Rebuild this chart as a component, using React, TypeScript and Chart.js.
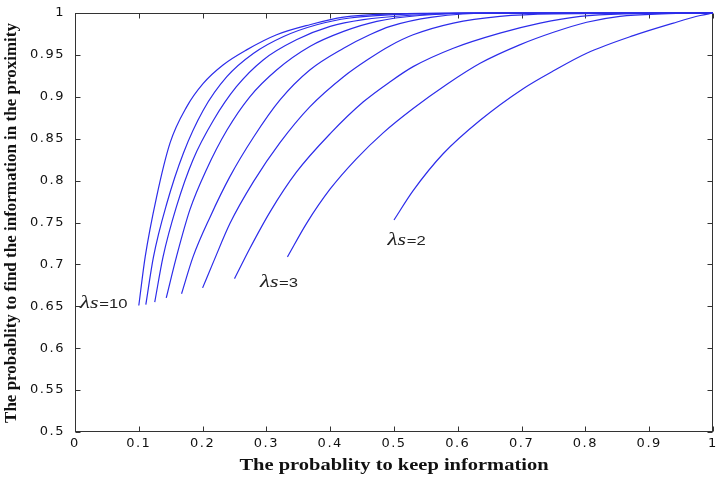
import { useEffect, useRef } from 'react';
import { Chart, registerables } from 'chart.js';

Chart.register(...registerables);

// ---- axis ticks & titles ----
const xTickValues = [0, 0.1, 0.2, 0.3, 0.4, 0.5, 0.6, 0.7, 0.8, 0.9, 1];
const yTickValues = [0.5, 0.55, 0.6, 0.65, 0.7, 0.75, 0.8, 0.85, 0.9, 0.95, 1];
const xAxisTitle = 'The probablity to keep information';
const yAxisTitle = 'The probablity to find the information in the proximity';

// ---- curves (x = probability to keep, y = probability to find) ----
const lambdaValues = [10, 9, 8, 7, 6, 5, 4, 3, 2];

const keep10 = [0.1, 0.11, 0.128, 0.149, 0.175, 0.201, 0.232, 0.269, 0.316, 0.368, 0.421, 0.5, 0.6, 1.0];
const find10 = [0.651, 0.709, 0.781, 0.845, 0.888, 0.916, 0.938, 0.956, 0.974, 0.986, 0.995, 0.999, 1.0, 1.0];

const keep9 = [0.111, 0.123, 0.144, 0.17, 0.201, 0.238, 0.28, 0.327, 0.379, 0.431, 0.5, 0.6, 1.0];
const find9 = [0.652, 0.709, 0.773, 0.833, 0.884, 0.924, 0.952, 0.972, 0.986, 0.994, 0.998, 1.0, 1.0];

const keep8 = [0.125, 0.138, 0.159, 0.185, 0.217, 0.253, 0.295, 0.347, 0.4, 0.452, 0.52, 0.62, 1.0];
const find8 = [0.655, 0.709, 0.769, 0.825, 0.872, 0.912, 0.944, 0.968, 0.984, 0.992, 0.997, 1.0, 1.0];

const keep7 = [0.143, 0.159, 0.18, 0.206, 0.238, 0.274, 0.316, 0.368, 0.421, 0.473, 0.54, 0.65, 1.0];
const find7 = [0.66, 0.709, 0.765, 0.813, 0.86, 0.9, 0.932, 0.96, 0.978, 0.99, 0.997, 1.0, 1.0];

const keep6 = [0.167, 0.185, 0.212, 0.243, 0.28, 0.321, 0.368, 0.421, 0.462, 0.494, 0.56, 0.66, 1.0];
const find6 = [0.665, 0.709, 0.757, 0.805, 0.852, 0.896, 0.932, 0.958, 0.974, 0.984, 0.995, 1.0, 1.0];

const keep5 = [0.2, 0.217, 0.243, 0.28, 0.321, 0.368, 0.421, 0.462, 0.494, 0.53, 0.593, 0.666, 0.75, 1.0];
const find5 = [0.672, 0.703, 0.749, 0.799, 0.845, 0.888, 0.924, 0.946, 0.961, 0.974, 0.988, 0.996, 0.999, 1.0];

const keep4 = [0.25, 0.274, 0.306, 0.347, 0.4, 0.452, 0.494, 0.53, 0.593, 0.666, 0.729, 0.792, 0.86, 1.0];
const find4 = [0.683, 0.719, 0.763, 0.81, 0.856, 0.894, 0.918, 0.936, 0.958, 0.976, 0.988, 0.996, 0.999, 1.0];

const keep3 = [0.333, 0.363, 0.4, 0.441, 0.483, 0.53, 0.583, 0.635, 0.697, 0.75, 0.802, 0.854, 0.92, 1.0];
const find3 = [0.709, 0.749, 0.79, 0.826, 0.857, 0.886, 0.915, 0.94, 0.962, 0.977, 0.989, 0.996, 0.999, 1.0];

const keep2 = [0.5, 0.53, 0.577, 0.635, 0.703, 0.75, 0.802, 0.875, 0.938, 0.98, 1.0];
const find2 = [0.753, 0.788, 0.832, 0.872, 0.91, 0.931, 0.952, 0.973, 0.988, 0.997, 1.0];

const curveKeep = [keep10, keep9, keep8, keep7, keep6, keep5, keep4, keep3, keep2];
const curveFind = [find10, find9, find8, find7, find6, find5, find4, find3, find2];

// ---- curve annotations ----
const noteLambda = ['10', '3', '2'];
const noteKeep = [0.008, 0.29, 0.49];
const noteFind = [0.648, 0.673, 0.723];

const LINE = '#2c2cea';
const AXIS = '#333333';
const STRETCH = 1.28;

const fmt = (v: number) => String(+v.toFixed(2));

const framePlugin = {
  id: 'matlabFrame',
  beforeUpdate(chart: any) {
    chart.ctx.letterSpacing = '1.5px';
  },
  beforeDraw(chart: any) {
    chart.ctx.letterSpacing = '1.5px';
  },
  beforeDatasetsDraw(chart: any) {
    const { ctx, chartArea: a, scales } = chart;
    ctx.save();
    ctx.strokeStyle = AXIS;
    ctx.lineWidth = 1;
    const L = Math.round(a.left) + 0.5;
    const R = Math.round(a.right) - 0.5;
    const T = Math.round(a.top) + 0.5;
    const B = Math.round(a.bottom) - 0.5;
    ctx.strokeRect(L, T, R - L, B - T);
    ctx.beginPath();
    for (const v of xTickValues) {
      const px = Math.round(scales.x.getPixelForValue(v)) + 0.5;
      ctx.moveTo(px, B);
      ctx.lineTo(px, B - 5);
      ctx.moveTo(px, T);
      ctx.lineTo(px, T + 5);
    }
    for (const v of yTickValues) {
      const py = Math.round(scales.y.getPixelForValue(v)) + 0.5;
      ctx.moveTo(L, py);
      ctx.lineTo(L + 5, py);
      ctx.moveTo(R, py);
      ctx.lineTo(R - 5, py);
    }
    ctx.stroke();
    ctx.restore();
  },
  afterDraw(chart: any) {
    const { ctx, chartArea: a, scales } = chart;
    ctx.save();
    ctx.letterSpacing = '0px';
    ctx.fillStyle = '#111';

    // x title
    ctx.save();
    ctx.translate((a.left + a.right) / 2, 466);
    ctx.scale(STRETCH, 1);
    ctx.font = 'bold 16px "Liberation Serif"';
    ctx.textAlign = 'center';
    ctx.textBaseline = 'middle';
    ctx.fillText(xAxisTitle, 0, 0);
    ctx.restore();

    // y title
    ctx.save();
    ctx.translate(12, 223);
    ctx.rotate(-Math.PI / 2);
    ctx.font = 'bold 17px "Liberation Serif"';
    ctx.textAlign = 'center';
    ctx.textBaseline = 'middle';
    ctx.fillText(yAxisTitle, 0, 0);
    ctx.restore();

    // lambda annotations
    for (let i = 0; i < noteLambda.length; i++) {
      const px = scales.x.getPixelForValue(noteKeep[i]);
      const py = scales.y.getPixelForValue(noteFind[i]);
      ctx.save();
      ctx.translate(px, py);
      ctx.scale(STRETCH, 1);
      ctx.textAlign = 'left';
      ctx.textBaseline = 'alphabetic';
      ctx.fillStyle = '#222';
      let cx = 0;
      ctx.font = 'italic 18px "Liberation Serif"';
      ctx.fillText('λ', cx, 0);
      cx += ctx.measureText('λ').width;
      ctx.font = 'italic 17px "Liberation Serif"';
      ctx.fillText('s', cx, 0);
      cx += ctx.measureText('s').width + 0.5;
      ctx.font = '13px "Liberation Sans"';
      ctx.fillText('=' + noteLambda[i], cx, 0);
      ctx.restore();
    }
    ctx.restore();
  },
};

export default function App() {
  const canvasRef = useRef<HTMLCanvasElement | null>(null);

  useEffect(() => {
    const canvas = canvasRef.current;
    if (!canvas) return;
    const datasets = lambdaValues.map((lam, i) => ({
      label: 'λs=' + lam,
      data: curveKeep[i].map((x, j) => ({ x, y: curveFind[i][j] })),
      borderColor: LINE,
      backgroundColor: LINE,
      borderWidth: 1.2,
      pointRadius: 0,
      cubicInterpolationMode: 'monotone' as const,
      fill: false,
      clip: 3,
    }));

    const chart = new Chart(canvas, {
      type: 'line',
      data: { datasets },
      options: {
        animation: false,
        responsive: true,
        maintainAspectRatio: false,
        layout: { padding: { top: 13, right: 6, left: 0, bottom: 0 } },
        plugins: {
          legend: { display: false },
          tooltip: { enabled: false },
          title: { display: false },
        },
        scales: {
          x: {
            type: 'linear',
            min: 0,
            max: 1,
            grid: { display: false, drawTicks: false },
            border: { display: false },
            afterBuildTicks: (s: any) => {
              s.ticks = xTickValues.map((v) => ({ value: v }));
            },
            afterFit: (s: any) => {
              s.height = 48;
              s.paddingLeft = 0;
              s.paddingRight = 0;
            },
            ticks: {
              autoSkip: false,
              maxRotation: 0,
              padding: 4,
              color: '#111',
              font: { family: '"DejaVu Sans"', size: 13 },
              callback: (v: any) => fmt(Number(v)),
            },
          },
          y: {
            type: 'linear',
            min: 0.5,
            max: 1,
            grid: { display: false, drawTicks: false },
            border: { display: false },
            afterBuildTicks: (s: any) => {
              s.ticks = yTickValues.map((v) => ({ value: v }));
            },
            afterFit: (s: any) => {
              s.width = 75;
              s.paddingTop = 0;
              s.paddingBottom = 0;
            },
            ticks: {
              autoSkip: false,
              padding: 10,
              color: '#111',
              font: { family: '"DejaVu Sans"', size: 13 },
              callback: (v: any) => fmt(Number(v)),
            },
          },
        },
      },
      plugins: [framePlugin],
    });
    return () => chart.destroy();
  }, []);

  return (
    <div style={{ position: 'fixed', left: 0, top: 0, width: 719, height: 480, background: '#fff' }}>
      <canvas ref={canvasRef} />
    </div>
  );
}
